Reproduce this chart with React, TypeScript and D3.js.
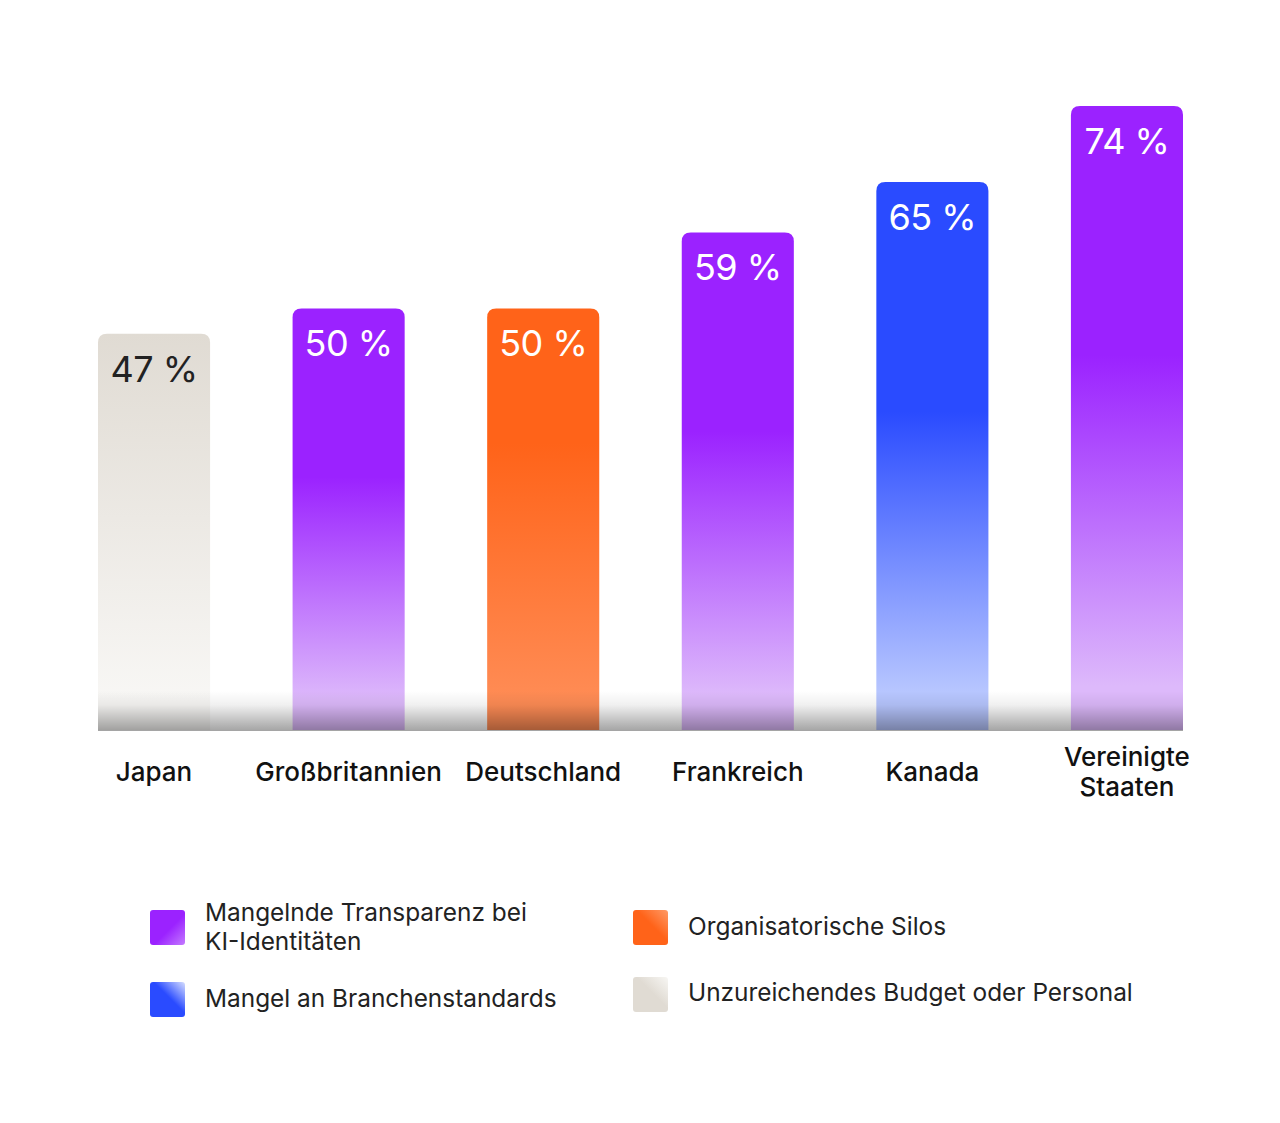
import React from "react";
import * as d3 from "d3";

const countries = ["Japan", "Großbritannien", "Deutschland", "Frankreich", "Kanada", "Vereinigte Staaten"];
const values = [47, 50, 50, 59, 65, 74];
const barCategory = ["budget", "transparency", "silos", "transparency", "standards", "transparency"];

const legendKeys = ["transparency", "silos", "standards", "budget"];
const legendLabels = [
  ["Mangelnde Transparenz bei", "KI-Identitäten"],
  ["Organisatorische Silos"],
  ["Mangel an Branchenstandards"],
  ["Unzureichendes Budget oder Personal"],
];

const palette: Record<string, { top: string; bottom: string; solid: number; text: string; light: string }> = {
  transparency: { top: "#9B22FF", bottom: "#DDB9FB", solid: 0.4, text: "#FFFFFF", light: "#C47BFF" },
  standards: { top: "#2A4BFF", bottom: "#B7C6FF", solid: 0.42, text: "#FFFFFF", light: "#D6DEFF" },
  silos: { top: "#FF6319", bottom: "#FF8C55", solid: 0.32, text: "#FFFFFF", light: "#FF9A66" },
  budget: { top: "#E0DBD3", bottom: "#F8F7F5", solid: 0.0, text: "#222222", light: "#F7F6F3" },
};

const FONT = "Inter, 'Noto Sans', sans-serif";

export default function App() {
  const W = 1280;
  const H = 1123;
  const baseY = 730;
  const x = d3.scaleBand<string>().domain(countries).range([98, 1183]).paddingInner(0.424).paddingOuter(0);
  const y = d3.scaleLinear().domain([0, 74]).range([baseY, 106]);
  const r = 9;

  const barPath = (x0: number, y0: number, w: number, h: number) => {
    const p = d3.path();
    p.moveTo(x0, y0 + h);
    p.lineTo(x0, y0 + r);
    p.quadraticCurveTo(x0, y0, x0 + r, y0);
    p.lineTo(x0 + w - r, y0);
    p.quadraticCurveTo(x0 + w, y0, x0 + w, y0 + r);
    p.lineTo(x0 + w, y0 + h);
    p.closePath();
    return p.toString();
  };

  const legendPos = [
    { sx: 150, sy: 910, tx: 205, ty: 921 },
    { sx: 633, sy: 910, tx: 688, ty: 935 },
    { sx: 150, sy: 982, tx: 205, ty: 1007 },
    { sx: 633, sy: 977, tx: 688, ty: 1001 },
  ];

  return (
    <svg
      width={W}
      height={H}
      style={{ display: "block", background: "#fff", position: "absolute", left: 0, top: 0 }}
    >
      <defs>
        {Object.entries(palette).map(([k, c]) => (
          <linearGradient key={k} id={`bar-${k}`} x1="0" y1="0" x2="0" y2="1">
            <stop offset="0" stopColor={c.top} />
            <stop offset={c.solid} stopColor={c.top} />
            <stop offset="0.93" stopColor={c.bottom} />
            <stop offset="1" stopColor={c.bottom} />
          </linearGradient>
        ))}
        {Object.entries(palette).map(([k, c]) => (
          <linearGradient
            key={k}
            id={`leg-${k}`}
            x1="0"
            y1={k === "transparency" ? "0" : "1"}
            x2="1"
            y2={k === "transparency" ? "1" : "0"}
          >
            <stop offset="0" stopColor={c.top} />
            <stop offset="0.55" stopColor={c.top} />
            <stop offset="1" stopColor={c.light} />
          </linearGradient>
        ))}
        <linearGradient id="fade" x1="0" y1="0" x2="0" y2="1">
          <stop offset="0" stopColor="#000" stopOpacity="0" />
          <stop offset="0.35" stopColor="#000" stopOpacity="0.06" />
          <stop offset="1" stopColor="#000" stopOpacity="0.36" />
        </linearGradient>
      </defs>

      {countries.map((c, i) => {
        const x0 = x(c)!;
        const w = x.bandwidth();
        const y0 = y(values[i]);
        const cat = barCategory[i];
        return (
          <g key={c}>
            <path d={barPath(x0, y0, w, baseY - y0)} fill={`url(#bar-${cat})`} />
            <text
              x={x0 + w / 2}
              y={y0 + 48}
              textAnchor="middle"
              fontFamily={FONT}
              fontSize={36}
              letterSpacing={-0.5}
              fill={palette[cat].text}
            >
              {`${values[i]} %`}
            </text>
          </g>
        );
      })}

      <rect x={98} y={691} width={1085} height={40} fill="url(#fade)" />

      {countries.map((c) => {
        const cx = x(c)! + x.bandwidth() / 2;
        const words = c === "Vereinigte Staaten" ? ["Vereinigte", "Staaten"] : [c];
        const startY = words.length > 1 ? 766 : 781;
        return (
          <text key={c} x={cx} textAnchor="middle" fontFamily={FONT} fontSize={26} fontWeight={500} fill="#111">
            {words.map((wd, j) => (
              <tspan key={j} x={cx} y={startY + j * 30}>
                {wd}
              </tspan>
            ))}
          </text>
        );
      })}

      {legendKeys.map((k, i) => {
        const p = legendPos[i];
        return (
          <g key={k}>
            <rect x={p.sx} y={p.sy} width={35} height={35} rx={3} fill={`url(#leg-${k})`} />
            <text fontFamily={FONT} fontSize={24.4} fill="#222">
              {legendLabels[i].map((l, j) => (
                <tspan key={j} x={p.tx} y={p.ty + j * 29}>
                  {l}
                </tspan>
              ))}
            </text>
          </g>
        );
      })}
    </svg>
  );
}
